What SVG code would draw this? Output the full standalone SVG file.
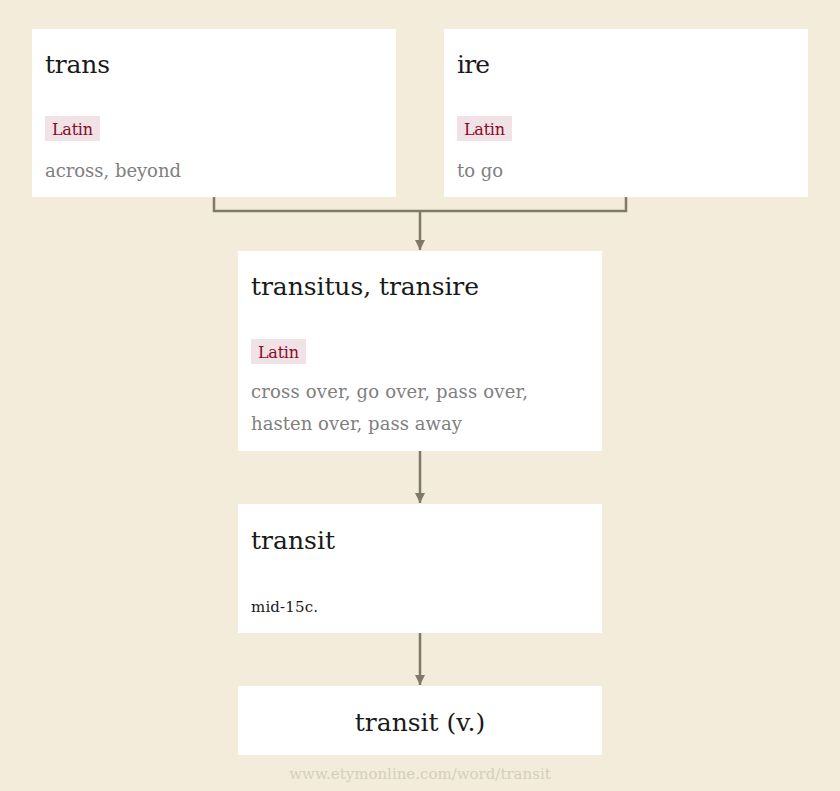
<svg xmlns="http://www.w3.org/2000/svg" width="840" height="791" viewBox="0 0 840 791">
<style>
.box{fill:#ffffff}
text{font-family:"DejaVu Serif","Liberation Serif",serif}
.title{font-size:25px;fill:#1a1a1a}
.tag{fill:#f1e2e5}
.tagt{font-size:16px;fill:#8a0a2a}
.gloss{font-size:18px;fill:#808080}
.date{font-size:15px;fill:#1a1a1a}
.conn{fill:none;stroke:#7e7a66;stroke-width:2.5}
.wm{font-size:15px;fill:#d4cfbd}
</style>
<defs>
<marker id="arr" viewBox="0 0 10 10" refX="10" refY="5" markerWidth="5.2" markerHeight="4" orient="auto" markerUnits="strokeWidth">
<path d="M0,0 L10,5 L0,10 z" fill="#7e7a66"/>
</marker>
</defs>
<rect width="840" height="791" fill="#f3ecdb"/>
<g id="connectors">
<path class="conn" d="M214,197 V211 H626 V197"/>
<path class="conn" d="M420,211 V250" marker-end="url(#arr)"/>
<path class="conn" d="M420,451 V503" marker-end="url(#arr)"/>
<path class="conn" d="M420,633 V685" marker-end="url(#arr)"/>
</g>
<g id="node-trans">
<rect class="box" x="32" y="29" width="364" height="168"/>
<text class="title" x="45" y="73" textLength="65">trans</text>
<rect class="tag" x="45" y="116" width="55" height="25"/>
<text class="tagt" x="52" y="135" textLength="41">Latin</text>
<text class="gloss" x="45" y="177" textLength="136">across, beyond</text>
</g>
<g id="node-ire">
<rect class="box" x="444" y="29" width="364" height="168"/>
<text class="title" x="457" y="73" textLength="33">ire</text>
<rect class="tag" x="457" y="116" width="55" height="25"/>
<text class="tagt" x="464" y="135" textLength="41">Latin</text>
<text class="gloss" x="457" y="177" textLength="46">to go</text>
</g>
<g id="node-transitus">
<rect class="box" x="238" y="251" width="364" height="200"/>
<text class="title" x="251" y="295" textLength="228">transitus, transire</text>
<rect class="tag" x="251" y="339" width="55" height="25"/>
<text class="tagt" x="258" y="358" textLength="41">Latin</text>
<text class="gloss" x="251" y="398" textLength="277">cross over, go over, pass over,</text>
<text class="gloss" x="251" y="430" textLength="211">hasten over, pass away</text>
</g>
<g id="node-transit">
<rect class="box" x="238" y="504" width="364" height="129"/>
<text class="title" x="251" y="549" textLength="84">transit</text>
<text class="date" x="251" y="612" textLength="67">mid-15c.</text>
</g>
<g id="node-transit-v">
<rect class="box" x="238" y="686" width="364" height="69"/>
<text class="title" x="420" y="731" text-anchor="middle">transit (v.)</text>
</g>
<text class="wm" x="420" y="779" text-anchor="middle">www.etymonline.com/word/transit</text>
</svg>
